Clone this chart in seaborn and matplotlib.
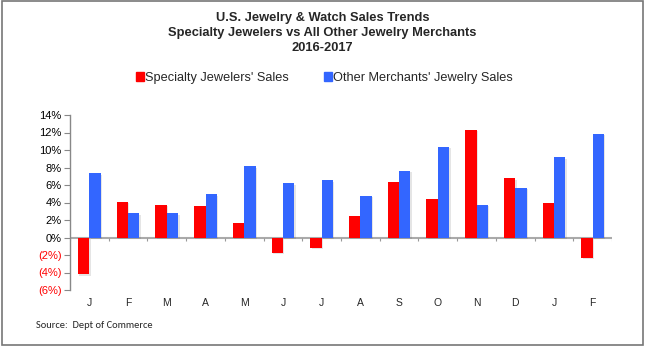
import matplotlib
matplotlib.use("Agg")
import matplotlib.pyplot as plt
import matplotlib.patheffects as pe
from matplotlib.patches import Rectangle
from matplotlib.ticker import FuncFormatter
import seaborn as sns
import pandas as pd

months = ["J", "F", "M", "A", "M", "J", "J", "A", "S", "O", "N", "D", "J", "F"]
specialty = [-4.2, 4.1, 3.75, 3.6, 1.7, -1.75, -1.15, 2.5, 6.35, 4.4, 12.3, 6.75, 4.0, -2.3]
other = [7.35, 2.75, 2.75, 4.95, 8.15, 6.2, 6.55, 4.75, 7.6, 10.4, 3.75, 5.65, 9.15, 11.85]
series_names = ["Specialty Jewelers' Sales", "Other Merchants' Jewelry Sales"]
colors = ["#FF0000", "#3366FF"]

rows = []
for i, m in enumerate(months):
    rows.append({"idx": i, "month": m, "series": series_names[0], "value": specialty[i]})
    rows.append({"idx": i, "month": m, "series": series_names[1], "value": other[i]})
df = pd.DataFrame(rows)

sns.set_theme(style="white")
plt.rcParams["font.family"] = ["Liberation Sans", "DejaVu Sans"]

fig = plt.figure(figsize=(6.45, 3.47), dpi=100)
ax = fig.add_axes([70 / 645, 1 - 290 / 347, 542 / 645, 175 / 347])

sns.barplot(data=df, x="idx", y="value", hue="series", hue_order=series_names,
            palette=colors, width=0.59, saturation=1, ax=ax, legend=False,
            linewidth=0)

# soft drop shadow under each bar
for p in ax.patches:
    p.set_path_effects([pe.SimplePatchShadow(offset=(1.0, -1.0), alpha=0.15, shadow_rgbFace="#555555"),
                        pe.Normal()])

ax.set_ylim(-6, 14)
ax.set_xlim(-0.5, len(months) - 0.5)
ax.set_yticks(range(-6, 15, 2))


def pct(v, _):
    v = int(round(v))
    return f"({abs(v)}%)" if v < 0 else f"{v}%"


ax.yaxis.set_major_formatter(FuncFormatter(pct))
ax.tick_params(axis="y", which="major", direction="out", length=4, width=0.8,
               color="#888888", labelsize=8, pad=2, left=True)
for t in ax.get_yticklabels():
    t.set_color("#FF0000" if "(" in t.get_text() else "#000000")

ax.set_xticks(range(len(months)))
ax.set_xticklabels(months, fontsize=7.5)
ax.tick_params(axis="x", length=0, pad=5.5)
ax.set_xlabel("")
ax.set_ylabel("")

for s in ["top", "right", "bottom"]:
    ax.spines[s].set_visible(False)
ax.spines["left"].set_color("#888888")
ax.spines["left"].set_linewidth(1.0)

# zero line with category separators
ax.axhline(0, color="#AAAAAA", lw=1.5, zorder=0.5)
ax.vlines([i - 0.5 for i in range(len(months) + 1)], -0.35, 0, color="#999999", lw=0.8, zorder=0.5)

title_lines = ["U.S. Jewelry & Watch Sales Trends",
               "Specialty Jewelers vs All Other Jewelry Merchants",
               "2016-2017"]
for y, line in zip([18, 33, 48], title_lines):
    fig.text(0.5, 1 - y / 347, line, ha="center", va="center", fontsize=9.3, fontweight="bold")

handles = [Rectangle((0, 0), 1, 1, color=c) for c in colors]
fig.legend(handles, series_names, loc="center", bbox_to_anchor=(0.503, 1 - 78 / 347), ncol=2,
           frameon=False, fontsize=9.2, handlelength=0.6, handleheight=0.7, handletextpad=0.1,
           columnspacing=2.8)

fig.text(36 / 645, 1 - 326 / 347, "Source:  Dept of Commerce", ha="left", va="center",
         fontsize=7.5, family=["Carlito", "Lato", "DejaVu Sans"])

# outer frame
fig.patches.append(Rectangle((0.003, 0.006), 0.994, 0.99, transform=fig.transFigure,
                             fill=False, edgecolor="#777777", lw=1.2))

fig.savefig("out.png", dpi=100, facecolor="white")
